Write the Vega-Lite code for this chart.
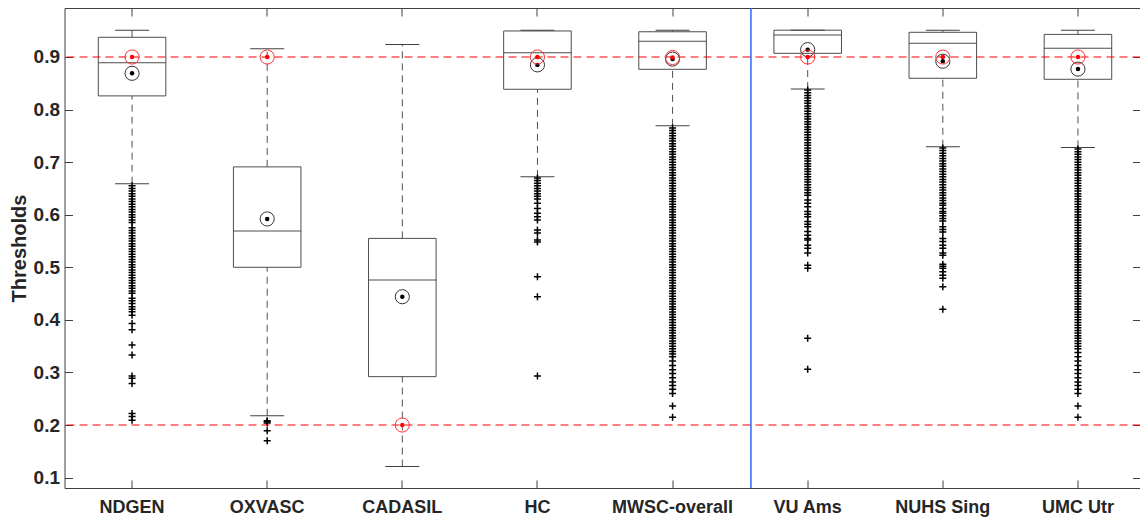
{
  "$schema": "https://vega.github.io/schema/vega-lite/v6.json",
  "width": 1076,
  "height": 480,
  "autosize": {"type": "none"},
  "padding": {"left": 64.5, "top": 8, "right": 0, "bottom": 29},
  "background": "white",
  "config": {
    "font": "Liberation Sans",
    "view": {"stroke": "#404040", "strokeWidth": 1},
    "axis": {"labelFont": "Liberation Sans", "titleFont": "Liberation Sans", "labelFontWeight": "bold", "titleFontWeight": "bold", "labelColor": "#262626", "titleColor": "#262626", "tickColor": "#404040", "domain": false, "grid": false}
  },
  "datasets": {
    "boxes": [
      {"g": "NDGEN", "lower": 0.659, "q1": 0.826, "median": 0.889, "q3": 0.9375, "upper": 0.951, "mean": 0.869, "thr": 0.9},
      {"g": "OXVASC", "lower": 0.2177, "q1": 0.5, "median": 0.569, "q3": 0.691, "upper": 0.9155, "mean": 0.592, "thr": 0.9},
      {"g": "CADASIL", "lower": 0.121, "q1": 0.292, "median": 0.476, "q3": 0.555, "upper": 0.924, "mean": 0.444, "thr": 0.2},
      {"g": "HC", "lower": 0.672, "q1": 0.8386, "median": 0.908, "q3": 0.9495, "upper": 0.951, "mean": 0.885, "thr": 0.9},
      {"g": "MWSC-overall", "lower": 0.769, "q1": 0.8766, "median": 0.93, "q3": 0.948, "upper": 0.951, "mean": 0.896, "thr": 0.899},
      {"g": "VU Ams", "lower": 0.839, "q1": 0.907, "median": 0.942, "q3": 0.951, "upper": 0.951, "mean": 0.914, "thr": 0.9},
      {"g": "NUHS Sing", "lower": 0.7294, "q1": 0.8595, "median": 0.926, "q3": 0.947, "upper": 0.951, "mean": 0.892, "thr": 0.9},
      {"g": "UMC Utr", "lower": 0.728, "q1": 0.8576, "median": 0.9165, "q3": 0.943, "upper": 0.951, "mean": 0.877, "thr": 0.9}
    ],
    "refs": [{"v": 0.9}, {"v": 0.2}],
    "divider": [{"after": "MWSC-overall"}],
    "outliers": [
      {"g":"NDGEN","v":0.655},{"g":"NDGEN","v":0.65},{"g":"NDGEN","v":0.645},{"g":"NDGEN","v":0.64},{"g":"NDGEN","v":0.635},{"g":"NDGEN","v":0.63},{"g":"NDGEN","v":0.625},{"g":"NDGEN","v":0.62},{"g":"NDGEN","v":0.615},{"g":"NDGEN","v":0.61},{"g":"NDGEN","v":0.605},{"g":"NDGEN","v":0.6},{"g":"NDGEN","v":0.595},{"g":"NDGEN","v":0.59},{"g":"NDGEN","v":0.585},{"g":"NDGEN","v":0.575},{"g":"NDGEN","v":0.57},{"g":"NDGEN","v":0.565},{"g":"NDGEN","v":0.56},{"g":"NDGEN","v":0.555},{"g":"NDGEN","v":0.55},{"g":"NDGEN","v":0.545},{"g":"NDGEN","v":0.54},{"g":"NDGEN","v":0.535},{"g":"NDGEN","v":0.53},{"g":"NDGEN","v":0.525},{"g":"NDGEN","v":0.52},{"g":"NDGEN","v":0.515},{"g":"NDGEN","v":0.51},{"g":"NDGEN","v":0.505},{"g":"NDGEN","v":0.5},{"g":"NDGEN","v":0.495},{"g":"NDGEN","v":0.49},{"g":"NDGEN","v":0.485},{"g":"NDGEN","v":0.48},{"g":"NDGEN","v":0.475},{"g":"NDGEN","v":0.47},{"g":"NDGEN","v":0.465},{"g":"NDGEN","v":0.46},{"g":"NDGEN","v":0.455},
      {"g":"NDGEN","v":0.4505},{"g":"NDGEN","v":0.441},{"g":"NDGEN","v":0.4365},{"g":"NDGEN","v":0.431},{"g":"NDGEN","v":0.425},{"g":"NDGEN","v":0.42},{"g":"NDGEN","v":0.4155},{"g":"NDGEN","v":0.409},{"g":"NDGEN","v":0.393},{"g":"NDGEN","v":0.381},{"g":"NDGEN","v":0.352},{"g":"NDGEN","v":0.333},{"g":"NDGEN","v":0.293},{"g":"NDGEN","v":0.289},{"g":"NDGEN","v":0.279},{"g":"NDGEN","v":0.222},{"g":"NDGEN","v":0.216},{"g":"NDGEN","v":0.209},
      {"g":"OXVASC","v":0.208},{"g":"OXVASC","v":0.206},{"g":"OXVASC","v":0.204},{"g":"OXVASC","v":0.189},{"g":"OXVASC","v":0.17},
      {"g":"HC","v":0.67},{"g":"HC","v":0.665},{"g":"HC","v":0.66},{"g":"HC","v":0.655},{"g":"HC","v":0.65},{"g":"HC","v":0.645},{"g":"HC","v":0.64},{"g":"HC","v":0.635},{"g":"HC","v":0.63},{"g":"HC","v":0.622},{"g":"HC","v":0.612},{"g":"HC","v":0.603},{"g":"HC","v":0.596},{"g":"HC","v":0.59},{"g":"HC","v":0.571},{"g":"HC","v":0.565},{"g":"HC","v":0.552},{"g":"HC","v":0.548},{"g":"HC","v":0.482},{"g":"HC","v":0.444},{"g":"HC","v":0.293},
      {"g":"MWSC-overall","v":0.765},{"g":"MWSC-overall","v":0.76},{"g":"MWSC-overall","v":0.755},{"g":"MWSC-overall","v":0.75},{"g":"MWSC-overall","v":0.745},{"g":"MWSC-overall","v":0.74},{"g":"MWSC-overall","v":0.735},{"g":"MWSC-overall","v":0.73},{"g":"MWSC-overall","v":0.725},{"g":"MWSC-overall","v":0.72},{"g":"MWSC-overall","v":0.715},{"g":"MWSC-overall","v":0.71},{"g":"MWSC-overall","v":0.705},{"g":"MWSC-overall","v":0.7},{"g":"MWSC-overall","v":0.695},{"g":"MWSC-overall","v":0.69},{"g":"MWSC-overall","v":0.685},{"g":"MWSC-overall","v":0.68},{"g":"MWSC-overall","v":0.675},{"g":"MWSC-overall","v":0.67},{"g":"MWSC-overall","v":0.665},{"g":"MWSC-overall","v":0.66},{"g":"MWSC-overall","v":0.655},{"g":"MWSC-overall","v":0.65},{"g":"MWSC-overall","v":0.645},{"g":"MWSC-overall","v":0.64},{"g":"MWSC-overall","v":0.635},{"g":"MWSC-overall","v":0.63},{"g":"MWSC-overall","v":0.625},{"g":"MWSC-overall","v":0.62},{"g":"MWSC-overall","v":0.615},{"g":"MWSC-overall","v":0.61},{"g":"MWSC-overall","v":0.605},{"g":"MWSC-overall","v":0.6},{"g":"MWSC-overall","v":0.595},{"g":"MWSC-overall","v":0.59},{"g":"MWSC-overall","v":0.585},{"g":"MWSC-overall","v":0.58},{"g":"MWSC-overall","v":0.575},{"g":"MWSC-overall","v":0.57},{"g":"MWSC-overall","v":0.565},{"g":"MWSC-overall","v":0.56},{"g":"MWSC-overall","v":0.555},{"g":"MWSC-overall","v":0.55},{"g":"MWSC-overall","v":0.545},{"g":"MWSC-overall","v":0.54},{"g":"MWSC-overall","v":0.535},{"g":"MWSC-overall","v":0.53},{"g":"MWSC-overall","v":0.525},{"g":"MWSC-overall","v":0.52},{"g":"MWSC-overall","v":0.515},{"g":"MWSC-overall","v":0.51},{"g":"MWSC-overall","v":0.505},{"g":"MWSC-overall","v":0.5},{"g":"MWSC-overall","v":0.495},{"g":"MWSC-overall","v":0.49},{"g":"MWSC-overall","v":0.485},{"g":"MWSC-overall","v":0.48},{"g":"MWSC-overall","v":0.475},{"g":"MWSC-overall","v":0.47},{"g":"MWSC-overall","v":0.465},{"g":"MWSC-overall","v":0.46},{"g":"MWSC-overall","v":0.455},{"g":"MWSC-overall","v":0.45},{"g":"MWSC-overall","v":0.445},{"g":"MWSC-overall","v":0.44},{"g":"MWSC-overall","v":0.435},{"g":"MWSC-overall","v":0.43},{"g":"MWSC-overall","v":0.425},{"g":"MWSC-overall","v":0.42},{"g":"MWSC-overall","v":0.415},{"g":"MWSC-overall","v":0.41},{"g":"MWSC-overall","v":0.405},{"g":"MWSC-overall","v":0.4},{"g":"MWSC-overall","v":0.395},{"g":"MWSC-overall","v":0.39},{"g":"MWSC-overall","v":0.385},{"g":"MWSC-overall","v":0.38},{"g":"MWSC-overall","v":0.375},{"g":"MWSC-overall","v":0.37},{"g":"MWSC-overall","v":0.365},{"g":"MWSC-overall","v":0.36},{"g":"MWSC-overall","v":0.355},{"g":"MWSC-overall","v":0.35},{"g":"MWSC-overall","v":0.345},{"g":"MWSC-overall","v":0.34},{"g":"MWSC-overall","v":0.335},{"g":"MWSC-overall","v":0.33},{"g":"MWSC-overall","v":0.322},{"g":"MWSC-overall","v":0.313},{"g":"MWSC-overall","v":0.305},{"g":"MWSC-overall","v":0.298},{"g":"MWSC-overall","v":0.29},{"g":"MWSC-overall","v":0.282},{"g":"MWSC-overall","v":0.275},{"g":"MWSC-overall","v":0.268},{"g":"MWSC-overall","v":0.26},{"g":"MWSC-overall","v":0.236},{"g":"MWSC-overall","v":0.2146},
      {"g":"VU Ams","v":0.837},{"g":"VU Ams","v":0.832},{"g":"VU Ams","v":0.827},{"g":"VU Ams","v":0.822},{"g":"VU Ams","v":0.817},{"g":"VU Ams","v":0.812},{"g":"VU Ams","v":0.807},{"g":"VU Ams","v":0.802},{"g":"VU Ams","v":0.797},{"g":"VU Ams","v":0.792},{"g":"VU Ams","v":0.787},{"g":"VU Ams","v":0.782},{"g":"VU Ams","v":0.777},{"g":"VU Ams","v":0.772},{"g":"VU Ams","v":0.767},{"g":"VU Ams","v":0.762},{"g":"VU Ams","v":0.757},{"g":"VU Ams","v":0.752},{"g":"VU Ams","v":0.747},{"g":"VU Ams","v":0.742},{"g":"VU Ams","v":0.737},{"g":"VU Ams","v":0.732},{"g":"VU Ams","v":0.727},{"g":"VU Ams","v":0.722},{"g":"VU Ams","v":0.717},{"g":"VU Ams","v":0.712},{"g":"VU Ams","v":0.707},{"g":"VU Ams","v":0.702},{"g":"VU Ams","v":0.697},{"g":"VU Ams","v":0.692},{"g":"VU Ams","v":0.687},{"g":"VU Ams","v":0.682},{"g":"VU Ams","v":0.677},{"g":"VU Ams","v":0.672},{"g":"VU Ams","v":0.667},{"g":"VU Ams","v":0.662},{"g":"VU Ams","v":0.657},{"g":"VU Ams","v":0.652},{"g":"VU Ams","v":0.647},{"g":"VU Ams","v":0.642},{"g":"VU Ams","v":0.637},{"g":"VU Ams","v":0.628},{"g":"VU Ams","v":0.622},{"g":"VU Ams","v":0.615},{"g":"VU Ams","v":0.606},{"g":"VU Ams","v":0.601},{"g":"VU Ams","v":0.596},{"g":"VU Ams","v":0.587},{"g":"VU Ams","v":0.582},{"g":"VU Ams","v":0.577},{"g":"VU Ams","v":0.568},{"g":"VU Ams","v":0.561},{"g":"VU Ams","v":0.555},{"g":"VU Ams","v":0.552},{"g":"VU Ams","v":0.542},{"g":"VU Ams","v":0.536},{"g":"VU Ams","v":0.527},{"g":"VU Ams","v":0.504},{"g":"VU Ams","v":0.498},{"g":"VU Ams","v":0.365},{"g":"VU Ams","v":0.306},
      {"g":"NUHS Sing","v":0.727},{"g":"NUHS Sing","v":0.722},{"g":"NUHS Sing","v":0.717},{"g":"NUHS Sing","v":0.712},{"g":"NUHS Sing","v":0.707},{"g":"NUHS Sing","v":0.702},{"g":"NUHS Sing","v":0.697},{"g":"NUHS Sing","v":0.692},{"g":"NUHS Sing","v":0.687},{"g":"NUHS Sing","v":0.682},{"g":"NUHS Sing","v":0.677},{"g":"NUHS Sing","v":0.672},{"g":"NUHS Sing","v":0.667},{"g":"NUHS Sing","v":0.662},{"g":"NUHS Sing","v":0.657},{"g":"NUHS Sing","v":0.652},{"g":"NUHS Sing","v":0.647},{"g":"NUHS Sing","v":0.642},{"g":"NUHS Sing","v":0.637},{"g":"NUHS Sing","v":0.632},{"g":"NUHS Sing","v":0.627},{"g":"NUHS Sing","v":0.622},{"g":"NUHS Sing","v":0.618},{"g":"NUHS Sing","v":0.612},{"g":"NUHS Sing","v":0.606},{"g":"NUHS Sing","v":0.603},{"g":"NUHS Sing","v":0.598},{"g":"NUHS Sing","v":0.593},{"g":"NUHS Sing","v":0.588},{"g":"NUHS Sing","v":0.577},{"g":"NUHS Sing","v":0.572},{"g":"NUHS Sing","v":0.567},{"g":"NUHS Sing","v":0.555},{"g":"NUHS Sing","v":0.549},{"g":"NUHS Sing","v":0.542},{"g":"NUHS Sing","v":0.536},{"g":"NUHS Sing","v":0.527},{"g":"NUHS Sing","v":0.523},{"g":"NUHS Sing","v":0.506},{"g":"NUHS Sing","v":0.502},{"g":"NUHS Sing","v":0.498},{"g":"NUHS Sing","v":0.4916},{"g":"NUHS Sing","v":0.485},{"g":"NUHS Sing","v":0.479},{"g":"NUHS Sing","v":0.463},{"g":"NUHS Sing","v":0.42},
      {"g":"UMC Utr","v":0.725},{"g":"UMC Utr","v":0.72},{"g":"UMC Utr","v":0.715},{"g":"UMC Utr","v":0.71},{"g":"UMC Utr","v":0.705},{"g":"UMC Utr","v":0.7},{"g":"UMC Utr","v":0.695},{"g":"UMC Utr","v":0.69},{"g":"UMC Utr","v":0.685},{"g":"UMC Utr","v":0.68},{"g":"UMC Utr","v":0.675},{"g":"UMC Utr","v":0.67},{"g":"UMC Utr","v":0.665},{"g":"UMC Utr","v":0.66},{"g":"UMC Utr","v":0.655},{"g":"UMC Utr","v":0.65},{"g":"UMC Utr","v":0.645},{"g":"UMC Utr","v":0.64},{"g":"UMC Utr","v":0.635},{"g":"UMC Utr","v":0.63},{"g":"UMC Utr","v":0.625},{"g":"UMC Utr","v":0.62},{"g":"UMC Utr","v":0.615},{"g":"UMC Utr","v":0.61},{"g":"UMC Utr","v":0.605},{"g":"UMC Utr","v":0.6},{"g":"UMC Utr","v":0.595},{"g":"UMC Utr","v":0.59},{"g":"UMC Utr","v":0.585},{"g":"UMC Utr","v":0.58},{"g":"UMC Utr","v":0.575},{"g":"UMC Utr","v":0.57},{"g":"UMC Utr","v":0.565},{"g":"UMC Utr","v":0.56},{"g":"UMC Utr","v":0.555},{"g":"UMC Utr","v":0.55},{"g":"UMC Utr","v":0.545},{"g":"UMC Utr","v":0.54},{"g":"UMC Utr","v":0.535},{"g":"UMC Utr","v":0.53},{"g":"UMC Utr","v":0.525},{"g":"UMC Utr","v":0.52},{"g":"UMC Utr","v":0.515},{"g":"UMC Utr","v":0.51},{"g":"UMC Utr","v":0.505},{"g":"UMC Utr","v":0.5},{"g":"UMC Utr","v":0.495},{"g":"UMC Utr","v":0.49},{"g":"UMC Utr","v":0.485},{"g":"UMC Utr","v":0.48},{"g":"UMC Utr","v":0.475},{"g":"UMC Utr","v":0.47},{"g":"UMC Utr","v":0.465},{"g":"UMC Utr","v":0.46},{"g":"UMC Utr","v":0.455},{"g":"UMC Utr","v":0.45},{"g":"UMC Utr","v":0.445},{"g":"UMC Utr","v":0.44},{"g":"UMC Utr","v":0.435},{"g":"UMC Utr","v":0.43},{"g":"UMC Utr","v":0.425},{"g":"UMC Utr","v":0.42},{"g":"UMC Utr","v":0.415},{"g":"UMC Utr","v":0.41},{"g":"UMC Utr","v":0.405},{"g":"UMC Utr","v":0.4},{"g":"UMC Utr","v":0.395},{"g":"UMC Utr","v":0.39},{"g":"UMC Utr","v":0.385},{"g":"UMC Utr","v":0.38},{"g":"UMC Utr","v":0.375},{"g":"UMC Utr","v":0.37},{"g":"UMC Utr","v":0.365},{"g":"UMC Utr","v":0.36},{"g":"UMC Utr","v":0.355},{"g":"UMC Utr","v":0.35},{"g":"UMC Utr","v":0.345},{"g":"UMC Utr","v":0.338},{"g":"UMC Utr","v":0.33},{"g":"UMC Utr","v":0.322},{"g":"UMC Utr","v":0.313},{"g":"UMC Utr","v":0.305},{"g":"UMC Utr","v":0.298},{"g":"UMC Utr","v":0.29},{"g":"UMC Utr","v":0.282},{"g":"UMC Utr","v":0.275},{"g":"UMC Utr","v":0.268},{"g":"UMC Utr","v":0.26},{"g":"UMC Utr","v":0.236},{"g":"UMC Utr","v":0.2146}
    ]
  },
  "resolve": {"axis": {"x": "independent", "y": "independent"}},
  "layer": [
    {
      "data": {"name": "boxes"},
      "mark": {"type": "bar", "width": {"band": 0.5}, "fill": "white", "fillOpacity": 0, "stroke": "#4d4d4d", "strokeWidth": 1},
      "encoding": {
        "x": {"field": "g", "type": "nominal", "sort": null,
          "scale": {"domain": ["NDGEN", "OXVASC", "CADASIL", "HC", "MWSC-overall", "VU Ams", "NUHS Sing", "UMC Utr"], "range": [0, 1081], "paddingInner": 0, "paddingOuter": 0},
          "axis": {"orient": "bottom", "title": null, "labelAngle": 0, "labelFontSize": 18, "tickSize": -8, "labelPadding": 18}},
        "y": {"field": "q1", "type": "quantitative",
          "scale": {"domain": [0.0802, 0.9932], "nice": false, "zero": false},
          "axis": {"orient": "left", "title": "Thresholds", "titleFontSize": 20, "labelFontSize": 19, "values": [0.1, 0.2, 0.3, 0.4, 0.5, 0.6, 0.7, 0.8, 0.9], "format": ".1f", "tickSize": -8, "labelPadding": 13, "titlePadding": 4}},
        "y2": {"field": "q3"}
      }
    },
    {
      "data": {"name": "boxes"},
      "mark": {"type": "tick", "orient": "horizontal", "size": 68, "thickness": 1, "color": "#4d4d4d", "opacity": 1},
      "encoding": {
        "x": {"field": "g", "type": "nominal", "sort": null, "axis": null},
        "y": {"field": "median", "type": "quantitative", "axis": null}
      }
    },
    {
      "data": {"name": "boxes"},
      "mark": {"type": "rule", "color": "#505050", "strokeWidth": 1, "strokeDash": [7, 5]},
      "encoding": {
        "x": {"field": "g", "type": "nominal", "sort": null, "axis": null},
        "y": {"field": "q3", "type": "quantitative", "axis": null},
        "y2": {"field": "upper"}
      }
    },
    {
      "data": {"name": "boxes"},
      "mark": {"type": "rule", "color": "#505050", "strokeWidth": 1, "strokeDash": [7, 5]},
      "encoding": {
        "x": {"field": "g", "type": "nominal", "sort": null, "axis": null},
        "y": {"field": "lower", "type": "quantitative", "axis": null},
        "y2": {"field": "q1"}
      }
    },
    {
      "data": {"name": "boxes"},
      "mark": {"type": "tick", "orient": "horizontal", "size": 34, "thickness": 1, "color": "#404040", "opacity": 1},
      "encoding": {
        "x": {"field": "g", "type": "nominal", "sort": null, "axis": null},
        "y": {"field": "upper", "type": "quantitative", "axis": null}
      }
    },
    {
      "data": {"name": "boxes"},
      "mark": {"type": "tick", "orient": "horizontal", "size": 34, "thickness": 1, "color": "#404040", "opacity": 1},
      "encoding": {
        "x": {"field": "g", "type": "nominal", "sort": null, "axis": null},
        "y": {"field": "lower", "type": "quantitative", "axis": null}
      }
    },
    {
      "data": {"name": "outliers"},
      "mark": {"type": "point", "shape": "M-1,0L1,0M0,-1L0,1", "size": 49, "filled": false, "stroke": "#000000", "strokeWidth": 1.5, "opacity": 1},
      "encoding": {
        "x": {"field": "g", "type": "nominal", "sort": null, "axis": null},
        "y": {"field": "v", "type": "quantitative", "axis": null}
      }
    },
    {
      "data": {"name": "refs"},
      "mark": {"type": "rule", "color": "#ff0000", "strokeWidth": 1.2, "strokeDash": [8, 5]},
      "encoding": {
        "y": {"field": "v", "type": "quantitative", "axis": null}
      }
    },
    {
      "data": {"name": "divider"},
      "mark": {"type": "rule", "color": "#2f66f2", "strokeWidth": 1.5},
      "encoding": {
        "x": {"field": "after", "type": "nominal", "sort": null, "bandPosition": 1.08, "axis": null}
      }
    },
    {
      "data": {"name": "boxes"},
      "mark": {"type": "point", "shape": "circle", "size": 200, "filled": false, "stroke": "#333333", "strokeWidth": 1, "opacity": 1},
      "encoding": {
        "x": {"field": "g", "type": "nominal", "sort": null,
          "axis": {"orient": "top", "title": null, "labels": false, "tickSize": -8}},
        "y": {"field": "mean", "type": "quantitative",
          "axis": {"orient": "right", "title": null, "labels": false, "values": [0.1, 0.2, 0.3, 0.4, 0.5, 0.6, 0.7, 0.8, 0.9], "tickSize": -8}}
      }
    },
    {
      "data": {"name": "boxes"},
      "mark": {"type": "point", "shape": "circle", "size": 20, "filled": true, "fill": "#000000", "strokeWidth": 0, "opacity": 1},
      "encoding": {
        "x": {"field": "g", "type": "nominal", "sort": null, "axis": null},
        "y": {"field": "mean", "type": "quantitative", "axis": null}
      }
    },
    {
      "data": {"name": "boxes"},
      "mark": {"type": "point", "shape": "circle", "size": 200, "filled": false, "stroke": "#ff3030", "strokeWidth": 1, "opacity": 1},
      "encoding": {
        "x": {"field": "g", "type": "nominal", "sort": null, "axis": null},
        "y": {"field": "thr", "type": "quantitative", "axis": null}
      }
    },
    {
      "data": {"name": "boxes"},
      "mark": {"type": "point", "shape": "circle", "size": 20, "filled": true, "fill": "#ff0000", "strokeWidth": 0, "opacity": 1},
      "encoding": {
        "x": {"field": "g", "type": "nominal", "sort": null, "axis": null},
        "y": {"field": "thr", "type": "quantitative", "axis": null}
      }
    }
  ]
}
